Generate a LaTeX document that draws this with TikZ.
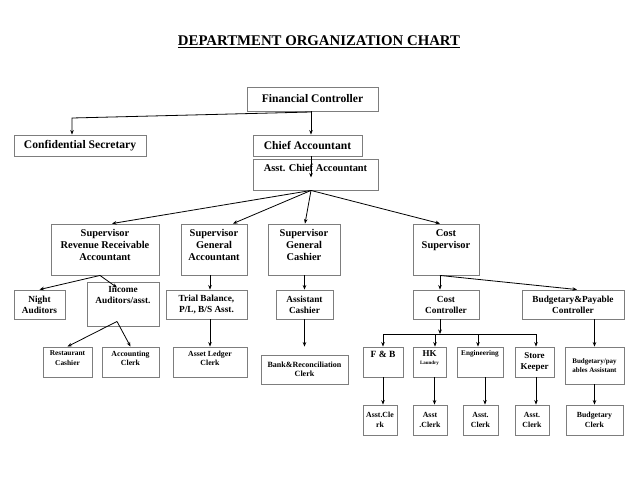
\documentclass[tikz,border=0pt]{standalone}
\usepackage{fontspec}
\setmainfont{Liberation Serif}
\usetikzlibrary{arrows.meta,positioning}
\definecolor{boxgray}{RGB}{125,125,125}

\begin{document}
\begin{tikzpicture}[x=1pt,y=-1pt,
    orgbox/.style={draw=boxgray,line width=0.9pt,inner sep=1pt,align=center},
    boxtext/.style={inner sep=0pt,align=center},
    link/.style={line width=0.8pt,-{Stealth[length=4.5pt,width=3.6pt]}},
    txtT/.style={font=\bfseries\fontsize{14.8}{17}\selectfont},
    txtL/.style={font=\bfseries\fontsize{11.6}{13.5}\selectfont},
    txtM/.style={font=\bfseries\fontsize{10.4}{11.8}\selectfont},
    txtS/.style={font=\bfseries\fontsize{9.3}{11}\selectfont},
    txtXS/.style={font=\bfseries\fontsize{7.8}{9.8}\selectfont}]

    \useasboundingbox (0,0) rectangle (638,493);

    \node[txtT] (title) at (319,42) {\underline{DEPARTMENT ORGANIZATION CHART}}; % heading

    % top
    \node[orgbox,txtL,minimum width=131pt,minimum height=24pt] (fc) at (312.5,99) {Financial Controller};
    \node[orgbox,txtL,minimum width=132pt,minimum height=21pt] (cs) at (80,145.5) {Confidential Secretary};
    \node[orgbox,txtL,minimum width=109pt,minimum height=21pt] (ca) at (307.5,145.5) {Chief Accountant};
    \node[orgbox,minimum width=125pt,minimum height=31pt] (aca) at (315.5,174.5) {};
    \node[boxtext,txtM,below=5pt of aca.north] (acatext) {Asst. Chief Accountant};

    % supervisors
    \node[orgbox,minimum width=108pt,minimum height=51pt] (srr) at (105,249.5) {};
    \node[boxtext,txtM,below=6pt of srr.north] (srrtext) {Supervisor\\Revenue Receivable\\Accountant};
    \node[orgbox,minimum width=66pt,minimum height=51pt] (sga) at (214,249.5) {};
    \node[boxtext,txtM,below=6pt of sga.north] (sgatext) {Supervisor\\General\\Accountant};
    \node[orgbox,minimum width=72pt,minimum height=51pt] (sgc) at (304,249.5) {};
    \node[boxtext,txtM,below=6pt of sgc.north] (sgctext) {Supervisor\\General\\Cashier};
    \node[orgbox,minimum width=66pt,minimum height=51pt] (csup) at (446,249.5) {};
    \node[boxtext,txtM,below=6pt of csup.north] (csuptext) {Cost\\Supervisor};

    % third row
    \node[orgbox,txtS,minimum width=51pt,minimum height=29pt] (na) at (39.5,304.5) {Night\\Auditors};
    \node[orgbox,minimum width=72pt,minimum height=44pt] (ia) at (123,304) {};
    \node[boxtext,txtS,below=5pt of ia.north] (iatext) {Income\\Auditors/asst.};
    \node[orgbox,txtS,minimum width=81pt,minimum height=29pt] (tb) at (206.5,304.5) {Trial Balance,\\P/L, B/S Asst.};
    \node[orgbox,txtS,minimum width=57pt,minimum height=29pt] (ac) at (304.5,304.5) {Assistant\\Cashier};
    \node[orgbox,txtS,minimum width=66pt,minimum height=29pt] (cc) at (446,304.5) {Cost\\Controller};
    \node[orgbox,txtS,minimum width=102pt,minimum height=29pt] (bpc) at (573,304.5) {Budgetary\&Payable\\Controller};

    % fourth row
    \node[orgbox,minimum width=49pt,minimum height=30pt] (rc) at (67.5,362) {};
    \node[boxtext,font=\bfseries\fontsize{7.4}{9.6}\selectfont,below=4pt of rc.north] (rctext) {Restaurant\\Cashier};
    \node[orgbox,minimum width=57pt,minimum height=30pt] (acl) at (130.5,362) {};
    \node[boxtext,txtXS,below=4pt of acl.north] (acltext) {Accounting\\Clerk};
    \node[orgbox,minimum width=74pt,minimum height=30pt] (alc) at (210,362) {};
    \node[boxtext,txtXS,below=4pt of alc.north] (alctext) {Asset Ledger\\Clerk};
    \node[orgbox,font=\bfseries\fontsize{8}{9.5}\selectfont,minimum width=87pt,minimum height=29pt] (brc) at (304.5,369.5) {Bank\&Reconciliation\\Clerk};
    \node[orgbox,minimum width=40pt,minimum height=30pt] (fb) at (383,362) {};
    \node[boxtext,font=\bfseries\fontsize{9.5}{11}\selectfont,below=4pt of fb.north] (fbtext) {F \& B};
    \node[orgbox,minimum width=33pt,minimum height=30pt] (hk) at (429.5,362) {};
    \node[boxtext,font=\bfseries\fontsize{9}{9}\selectfont,below=4pt of hk.north] (hktext) {HK\\[-1pt]{\fontsize{5}{6}\selectfont Laundry}};
    \node[orgbox,minimum width=46pt,minimum height=30pt] (eng) at (480,362) {};
    \node[boxtext,font=\bfseries\fontsize{7.2}{8}\selectfont,below=4pt of eng.north] (engtext) {Engineering};
    \node[orgbox,font=\bfseries\fontsize{9}{10.5}\selectfont,minimum width=39pt,minimum height=30pt] (sk) at (534.5,362) {Store\\Keeper};
    \node[orgbox,font=\bfseries\fontsize{7}{9.5}\selectfont,minimum width=59pt,minimum height=37pt] (bpa) at (594.5,365.5) {Budgetary/pay\\ables Assistant};

    % clerks
    \node[orgbox,txtXS,minimum width=34pt,minimum height=30pt] (c1) at (380,420) {Asst.Cle\\rk};
    \node[orgbox,txtXS,minimum width=34pt,minimum height=30pt] (c2) at (430,420) {Asst\\.Clerk};
    \node[orgbox,txtXS,minimum width=35pt,minimum height=30pt] (c3) at (480.5,420) {Asst.\\Clerk};
    \node[orgbox,txtXS,minimum width=34pt,minimum height=30pt] (c4) at (532,420) {Asst.\\Clerk};
    \node[orgbox,txtXS,minimum width=57pt,minimum height=30pt] (bc) at (594.5,420) {Budgetary\\Clerk};

    % links from the top
    \coordinate (fcjoin) at (311,112);
    \coordinate (csbend) at (72,118);
    \draw[line width=0.8pt] (fcjoin |- fc.south) -- (fcjoin);
    \draw[link] (fcjoin) -- (csbend) -- ([xshift=-8pt]cs.north);
    \draw[link] (fcjoin) -- (fcjoin |- ca.north);
    \draw[link] (fcjoin |- ca.south) -- ++(0,21);

    \coordinate (acaout) at (fcjoin |- aca.south);
    \draw[link] (acaout) -- ([xshift=7pt]srr.north);
    \draw[link] (acaout) -- ([xshift=19pt]sga.north);
    \draw[link] (acaout) -- ([xshift=1pt]sgc.north);
    \draw[link] (acaout) -- ([xshift=-6pt]csup.north);

    % revenue side
    \coordinate (srrout) at ([xshift=-5pt]srr.south);
    \draw[link] (srrout) -- (na.north);
    \draw[link] (srrout) -- ([xshift=-6pt,yshift=-6pt]ia.north);
    \coordinate (iapeak) at ([xshift=-6pt,yshift=5pt]ia.south);
    \draw[link] (iapeak) -- (rc.north);
    \draw[link] (iapeak) -- (acl.north);

    % accountant and cashier
    \draw[link] (sga.south -| alc.north) -- (tb.north -| alc.north);
    \draw[link] (tb.south -| alc.north) -- (alc.north);
    \draw[link] (sgc.south -| ac.north) -- (ac.north);
    \draw[link] (ac.south) -- ([yshift=8pt]brc.north);

    % cost side
    \coordinate (csupout) at ([xshift=-6pt]csup.south);
    \draw[link] (csupout) -- (csupout |- cc.north);
    \draw[link] (csupout) -- ([xshift=4pt]bpc.north);
    \coordinate (ccbar) at (440,334);
    \draw[link] (ccbar |- cc.south) -- (ccbar);
    \draw[link] (ccbar) -| (fb.north);
    \draw[link] (ccbar) -| ([xshift=5.5pt]hk.north);
    \draw[link] (ccbar) -| ([xshift=-2pt]eng.north);
    \draw[link] (ccbar) -| ([xshift=1.5pt]sk.north);
    \draw[link] (bpa.north |- bpc.south) -- (bpa.north);

    % down to the clerks
    \draw[link] (fb.south) -- (fb.south |- c1.north);
    \draw[link] ([xshift=5pt]hk.south) -- ([xshift=5pt]hk.south |- c2.north);
    \draw[link] ([xshift=5pt]eng.south) -- ([xshift=5pt]eng.south |- c3.north);
    \draw[link] ([xshift=1.5pt]sk.south) -- ([xshift=1.5pt]sk.south |- c4.north);
    \draw[link] (bpa.south) -- (bpa.south |- bc.north);
\end{tikzpicture}
\end{document}
